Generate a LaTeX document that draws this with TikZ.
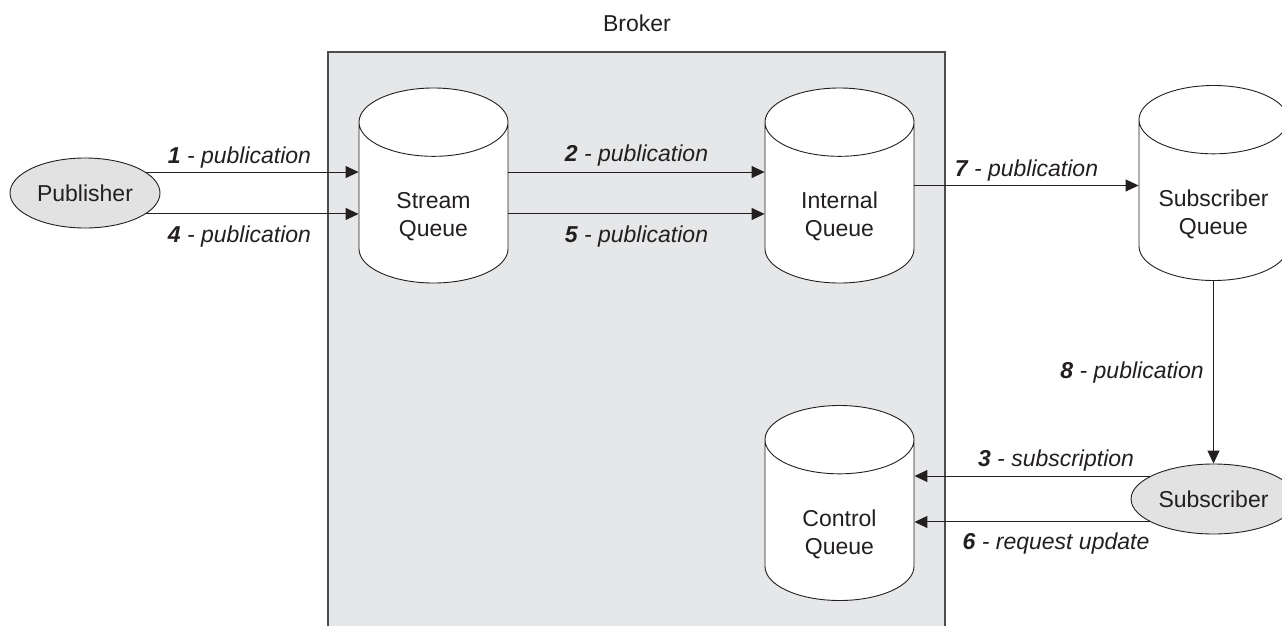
\documentclass[tikz,border=0pt]{standalone}
\usepackage{fontspec}
\setmainfont{Liberation Sans}
\usetikzlibrary{shapes.geometric,arrows.meta}
\definecolor{brokerfill}{HTML}{E6E7E8}
\definecolor{actorfill}{HTML}{E2E2E3}
\definecolor{inkgray}{HTML}{231F20}
\newcommand{\msg}[2]{\textit{\textbf{#1} - #2}}
\newcommand{\qstrut}{\rule{0pt}{39pt}}
\begin{document}
\begin{tikzpicture}[x=1pt,y=-1pt,>={Triangle[length=13pt,width=12pt]},
  font=\fontsize{23}{28}\selectfont,text=inkgray]
\useasboundingbox (0,0) rectangle (1282,626);

% broker area
\fill[brokerfill] (328,52) rectangle (945,626);
\draw[gray!60!black,line width=1.4pt] (328,626) -- (328,52) -- (945,52) -- (945,626);
\node (broker) at (637,23) {Broker};

\begin{scope}[every node/.style={cylinder,shape border rotate=90,aspect=0.56,draw=inkgray,fill=white,line width=0.9pt,inner sep=1pt,text width=120pt,minimum width=149pt,minimum height=195pt,align=center,anchor=shape center}]
	\node (SQ) at (433.5,185.5) {\qstrut Stream\\Queue};
	\node (IQ) at (839.5,185.5) {\qstrut Internal\\Queue};
	\node (SubQ) at (1213.5,183) {\qstrut Subscriber\\Queue};
	\node (CQ) at (839.5,503) {\qstrut Control\\Queue};
\end{scope}

\begin{scope}[every node/.style={ellipse,draw=inkgray,fill=actorfill,line width=0.9pt,minimum height=70pt}]
	\node [minimum width=150pt] (Pub) at (85,193) {Publisher};
	\node [minimum width=146pt] (Sub) at (1213.5,499) {Subscriber};
\end{scope}

\begin{scope}[every edge/.style={draw=inkgray,line width=1pt}]
	\path [->] (Pub.19) edge node [above,pos=0.44] {\msg{1}{publication}} (Pub.19 -| SQ.west);
	\path [->] (Pub.-19) edge node [below=8pt,pos=0.44] {\msg{4}{publication}} (Pub.-19 -| SQ.west);
	\path [->] (SQ.east |- Pub.19) edge node [above=2pt] {\msg{2}{publication}} (IQ.west |- Pub.19);
	\path [->] (SQ.east |- Pub.-19) edge node [below=8pt] {\msg{5}{publication}} (IQ.west |- Pub.-19);
	\path [->] (IQ.shape center -| IQ.east) edge node [above] {\msg{7}{publication}} (IQ.shape center -| SubQ.west);
	\path [->] (SubQ.south) edge node [left=6pt] {\msg{8}{publication}} (Sub.north);
	\path [->] (Sub.160) edge node [above=1pt,pos=0.4] {\msg{3}{subscription}} (Sub.160 -| CQ.east);
	\path [->] (Sub.200) edge node [below=7pt,pos=0.4] {\msg{6}{request update}} (Sub.200 -| CQ.east);
\end{scope}
\end{tikzpicture}
\end{document}
